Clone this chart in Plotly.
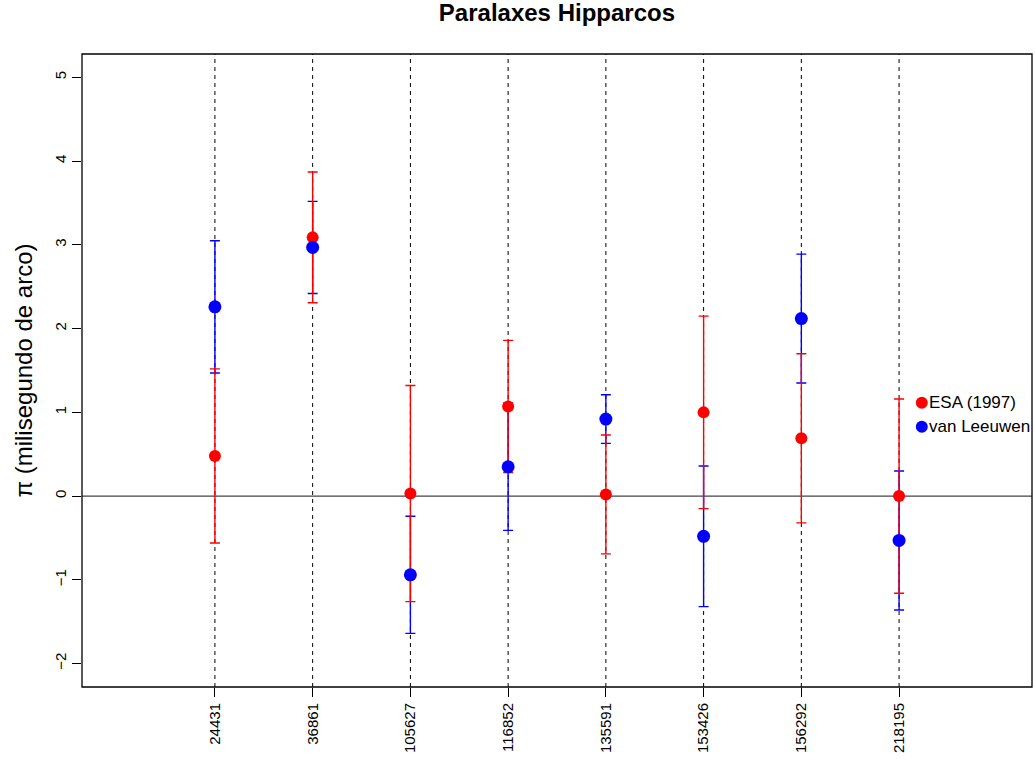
import plotly.graph_objects as go

# Hipparcos parallaxes (mas) for eight HD stars, two reductions
stars = ["24431", "36861", "105627", "116852", "135591", "153426", "156292", "218195"]
esa_plx = [0.48, 3.09, 0.03, 1.07, 0.02, 1.00, 0.69, 0.00]
esa_err = [1.04, 0.78, 1.29, 0.79, 0.71, 1.15, 1.01, 1.16]
vl_plx = [2.26, 2.97, -0.94, 0.35, 0.92, -0.48, 2.12, -0.53]
vl_err = [0.79, 0.55, 0.70, 0.76, 0.29, 0.84, 0.77, 0.83]
y_ticks = [-2, -1, 0, 1, 2, 3, 4, 5]

FONT = "Liberation Sans, Arial, Helvetica, sans-serif"
RED = "#ff0000"
BLUE = "#0000ff"

xpos = list(range(1, len(stars) + 1))

fig = go.Figure()

# van Leeuwen error bars (drawn first so ESA bars sit on top)
fig.add_trace(go.Scatter(
    x=xpos, y=vl_plx, mode="markers",
    marker=dict(size=0.1, color=BLUE, opacity=0),
    error_y=dict(type="data", array=vl_err, color=BLUE, thickness=1.4, width=5),
    showlegend=False, hoverinfo="skip",
))
fig.add_trace(go.Scatter(
    x=xpos, y=esa_plx, mode="markers",
    marker=dict(size=12, color=RED),
    error_y=dict(type="data", array=esa_err, color=RED, thickness=1.4, width=5),
    name="ESA (1997)", showlegend=False,
))
fig.add_trace(go.Scatter(
    x=xpos, y=vl_plx, mode="markers",
    marker=dict(size=13, color=BLUE),
    name="van Leeuwen", showlegend=False,
))

# dashed guide lines at each star
for xv in xpos:
    fig.add_shape(type="line", xref="x", yref="paper", x0=xv, x1=xv, y0=0, y1=1,
                  line=dict(color="black", width=1, dash="4px,4px"), layer="below")

# zero line
fig.add_shape(type="line", xref="paper", yref="y", x0=0, x1=1, y0=0, y1=0,
              line=dict(color="#444444", width=1.3), layer="below")

# plot frame
fig.add_shape(type="rect", xref="paper", yref="paper", x0=0, x1=1, y0=0, y1=1,
              line=dict(color="black", width=1.3))

# legend: coloured dots with labels
legend_items = [("ESA (1997)", RED), ("van Leeuwen", BLUE)]
leg_x = 0.884
leg_y = [0.449, 0.411]
for (label, col), ly in zip(legend_items, leg_y):
    fig.add_shape(type="circle", xref="paper", yref="paper",
                  xsizemode="pixel", ysizemode="pixel",
                  xanchor=leg_x, yanchor=ly, x0=-6, x1=6, y0=-6, y1=6,
                  fillcolor=col, line=dict(color=col, width=0))
    fig.add_annotation(text=label, xref="paper", yref="paper", x=leg_x + 0.005, y=ly,
                       xanchor="left", yanchor="middle", showarrow=False,
                       font=dict(family=FONT, size=17, color="black"))

fig.update_layout(
    width=1035, height=762,
    margin=dict(l=82, r=3, t=54, b=75),
    paper_bgcolor="white", plot_bgcolor="white",
    showlegend=False,
    title=dict(text="<b>Paralaxes Hipparcos</b>", x=0.5381, xanchor="center",
               y=0.9836, yanchor="middle",
               font=dict(family=FONT, size=24, color="black")),
    font=dict(family=FONT, size=15, color="black"),
)

fig.update_xaxes(
    range=[-0.36, 9.36], tickmode="array", tickvals=xpos, ticktext=stars,
    tickangle=-90, ticks="outside", ticklen=9, tickcolor="black", tickwidth=1,
    showgrid=False, zeroline=False, showline=False,
    tickfont=dict(family=FONT, size=15, color="black"),
)
fig.update_yaxes(
    range=[-2.28, 5.28], tickmode="array", tickvals=y_ticks,
    ticktext=[str(v).replace("-", "\u2212") for v in y_ticks],
    tickangle=-90, ticks="outside", ticklen=9, tickcolor="black", tickwidth=1,
    showgrid=False, zeroline=False, showline=False,
    tickfont=dict(family=FONT, size=15, color="black"),
    title=dict(text="\u03c0 (milisegundo de arco)", standoff=12,
               font=dict(family=FONT, size=24, color="black")),
)

fig.write_html("out.html")
